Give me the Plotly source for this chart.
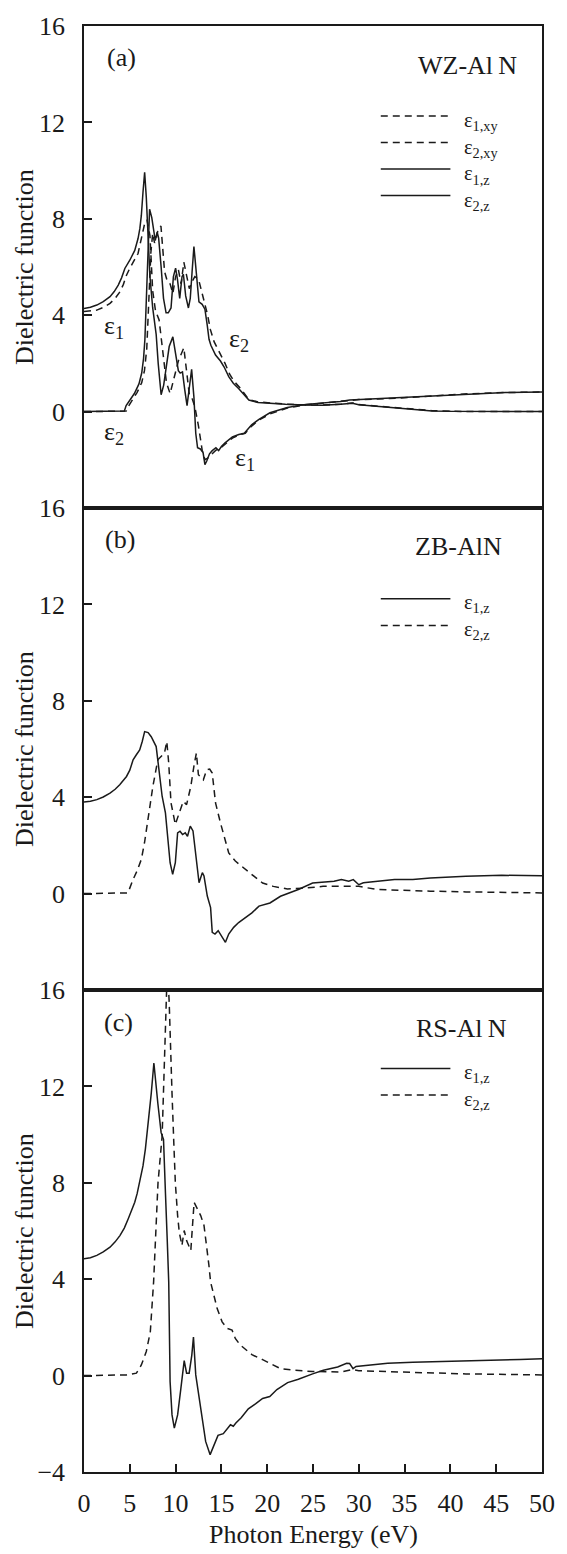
import plotly.graph_objects as go

# ---------------- Data ----------------
# (a) WZ-AlN
E_wz_e1xy = [0, 0.7, 1.4, 2.1, 2.84, 3.4, 3.92, 4.3, 4.64, 5.0, 5.36, 5.9, 6.26, 6.62, 6.88, 7.2, 7.5,
             7.8, 8.2, 8.6, 9.0, 9.4, 9.8, 10.3, 10.9, 11.2, 11.5, 11.8, 12.1, 12.5, 12.9, 13.2, 13.6,
             14.0, 14.4, 14.8, 15.4, 16.2, 17.0, 17.6, 18.3, 19.1, 20.3, 22.2, 24.2, 26.0, 28.0, 29.0,
             30.0, 32.0, 34.0, 38.0, 42.0, 46.0, 50.0]
wz_e1xy = [4.15, 4.17, 4.21, 4.32, 4.49, 4.7, 4.97, 5.28, 5.66, 5.95, 6.21, 6.56, 7.18, 7.8, 7.95, 7.3, 5.0,
           4.2, 3.8, 2.4, 1.2, 0.75, 1.3, 2.1, 2.65, 1.6, 0.7, 0.55, 0.2, -0.6, -1.6, -2.0, -1.9,
           -1.75, -1.6, -1.55, -1.35, -1.1, -0.95, -0.9, -0.6, -0.35, -0.1, 0.15, 0.28, 0.35, 0.42, 0.46,
           0.5, 0.52, 0.55, 0.65, 0.74, 0.79, 0.81]

E_wz_e2xy = [0, 4.6, 4.9, 5.3, 5.8, 6.3, 6.6, 6.85, 7.05, 7.3, 7.5, 7.7, 7.9, 8.1, 8.4, 8.6, 8.8, 9.1,
             9.4, 9.7, 10.0, 10.3, 10.6, 10.9, 11.2, 11.5, 11.8, 12.1, 12.5, 12.8, 13.1, 13.5, 13.8,
             14.2, 14.6, 15.0, 15.4, 15.9, 16.4, 17.0, 17.5, 18.0, 19.0, 20.0, 22.0, 24.0, 26.0, 28.0,
             29.3, 30.0, 32.0, 34.0, 36.0, 38.0, 40.0, 50.0]
wz_e2xy = [0, 0.02, 0.25, 0.5, 0.8, 1.2, 1.7, 2.6, 4.5, 6.6, 7.4, 7.0, 7.2, 7.6, 7.7, 6.9, 5.8, 5.4,
           5.3, 4.9, 5.6, 5.9, 5.3, 6.2, 5.7, 5.1, 5.4, 5.6, 5.5, 5.0, 4.6, 4.0, 3.4,
           2.9, 2.6, 2.3, 2.0, 1.55, 1.25, 1.0, 0.75, 0.5, 0.4, 0.36, 0.31, 0.28, 0.27, 0.3,
           0.36, 0.29, 0.23, 0.16, 0.09, 0.04, 0.01, 0.0]

E_wz_e1z = [0, 0.7, 1.4, 2.1, 2.84, 3.3, 3.74, 4.1, 4.46, 5.0, 5.54, 5.9, 6.1, 6.26, 6.44, 6.62, 6.8,
            7.0, 7.2, 7.5, 7.88, 8.1, 8.42, 8.7, 9.0, 9.3, 9.7, 10.0, 10.3, 10.5, 10.75, 11.0, 11.25,
            11.5, 11.75, 12.0, 12.2, 12.4, 12.7, 13.0, 13.2, 13.4, 13.7, 14.0, 14.4, 14.7, 15.0, 15.4,
            16.2, 16.9, 17.5, 18.3, 19.1, 20.3, 22.2, 24.2, 26.0, 28.0, 29.0, 30.0, 32.0, 34.0, 38.0,
            42.0, 46.0, 50.0]
wz_e1z = [4.28, 4.33, 4.42, 4.56, 4.77, 4.98, 5.25, 5.55, 5.94, 6.28, 6.69, 7.18, 7.6, 8.14, 9.1, 9.93, 8.9,
          7.0, 5.6, 4.3, 3.2, 2.0, 0.7, 1.1, 2.0, 2.7, 3.1, 2.4, 1.7, 1.6, 1.65, 0.9, 0.25,
          1.0, 1.75, 0.6, -0.9, -1.5, -1.55, -1.7, -2.2, -2.05, -1.75, -1.62, -1.5, -1.62, -1.45, -1.3,
          -1.05, -0.95, -0.9, -0.55, -0.32, -0.05, 0.17, 0.3, 0.35, 0.42, 0.48, 0.5, 0.52, 0.55, 0.65,
          0.74, 0.79, 0.81]

E_wz_e2z = [0, 4.4, 4.6, 5.0, 5.5, 6.0, 6.3, 6.5, 6.65, 6.8, 7.0, 7.16, 7.4, 7.55, 7.78, 7.99, 8.15,
            8.42, 8.68, 8.96, 9.2, 9.5, 9.76, 10.0, 10.2, 10.45, 10.7, 10.85, 11.1, 11.4, 11.6, 11.8,
            12.0, 12.3, 12.55, 12.9, 13.2, 13.45, 13.65, 13.85, 14.36, 14.9, 15.3, 15.8, 16.3, 16.9,
            17.4, 18.0, 19.0, 20.0, 22.0, 24.0, 26.0, 28.0, 29.3, 30.0, 32.0, 34.0, 36.0, 38.0, 40.0, 50.0]
wz_e2z = [0, 0.02, 0.25, 0.45, 0.75, 1.15, 1.6, 2.2, 3.0, 4.6, 6.8, 8.4, 8.05, 7.7, 7.1, 7.45, 7.2,
          6.0, 4.7, 4.1, 4.1, 4.3, 5.6, 5.95, 5.5, 4.7, 5.6, 5.7, 4.8, 4.3, 4.7, 5.8,
          6.85, 5.6, 4.55, 4.45, 4.25, 3.6, 3.0, 2.75, 2.35, 2.1, 1.85, 1.45, 1.18, 0.95,
          0.72, 0.48, 0.38, 0.35, 0.3, 0.27, 0.26, 0.3, 0.35, 0.28, 0.22, 0.15, 0.08, 0.03, 0.01, 0.0]

# (b) ZB-AlN
E_zb_e1 = [0, 0.7, 1.4, 2.1, 2.84, 3.4, 3.9, 4.3, 4.64, 5.0, 5.36, 5.7, 6.08, 6.35, 6.62, 7.0, 7.34,
           7.88, 8.17, 8.53, 8.89, 9.14, 9.4, 9.68, 9.97, 10.22, 10.48, 10.76, 11.05, 11.3, 11.6,
           11.9, 12.2, 12.56, 12.92, 13.1, 13.46, 13.82, 14.0, 14.3, 14.65, 15.08, 15.44, 15.8, 16.34,
           16.88, 17.4, 18.33, 19.1, 20.3, 21.45, 22.23, 23.4, 24.96, 26.1, 27.3, 28.1, 28.9, 29.4,
           30.0, 30.5, 32.0, 33.9, 35.9, 37.8, 41.7, 45.6, 50.0]
zb_e1 = [3.8, 3.83, 3.9, 4.01, 4.17, 4.33, 4.52, 4.68, 4.86, 5.12, 5.55, 5.75, 5.96, 6.3, 6.72, 6.68, 6.51,
         6.1, 5.14, 4.04, 3.35, 2.38, 1.28, 0.8, 1.28, 2.52, 2.59, 2.45, 2.52, 2.38, 2.8,
         2.6, 1.69, 0.45, 0.87, 0.73, -0.1, -0.58, -1.61, -1.68, -1.54, -1.82, -2.02, -1.68, -1.4,
         -1.2, -1.06, -0.8, -0.52, -0.39, -0.11, 0.0, 0.17, 0.44, 0.47, 0.51, 0.58, 0.51, 0.58,
         0.37, 0.45, 0.51, 0.58, 0.58, 0.65, 0.72, 0.76, 0.74]

E_zb_e2 = [0, 4.8, 5.36, 5.8, 6.26, 6.6, 6.98, 7.52, 8.06, 8.42, 8.78, 9.04, 9.25, 9.5, 9.97, 10.4, 10.84,
           11.2, 11.66, 12.02, 12.27, 12.49, 13.03, 13.39, 13.72, 14.0, 14.36, 14.9, 15.37, 15.8, 16.52,
           17.24, 18.33, 19.5, 20.67, 22.2, 24.2, 26.1, 28.0, 30.0, 32.0, 33.9, 37.8, 41.7, 45.6, 50.0]
zb_e2 = [0, 0.03, 0.59, 0.95, 1.42, 2.1, 3.07, 4.45, 5.55, 5.69, 5.83, 6.31, 5.41, 3.76, 2.87, 3.35, 3.83,
         3.69, 4.45, 5.34, 5.83, 4.93, 4.72, 5.14, 5.17, 5.0, 3.76, 2.93, 2.25, 1.69, 1.35,
         1.14, 0.79, 0.44, 0.3, 0.19, 0.23, 0.3, 0.3, 0.3, 0.17, 0.14, 0.1, 0.07, 0.06, 0.03]

# (c) RS-AlN
E_rs_e1 = [0, 0.7, 1.4, 2.1, 2.84, 3.4, 3.92, 4.4, 4.82, 5.2, 5.54, 5.8, 6.08, 6.44, 6.7, 6.98, 7.15,
           7.34, 7.5, 7.63, 8.06, 8.42, 8.68, 8.78, 8.89, 9.09, 9.25, 9.4, 9.61, 9.86, 10.22, 10.58,
           10.94, 11.2, 11.48, 11.77, 11.95, 12.2, 12.56, 12.92, 13.28, 13.77, 14.24, 14.63, 15.21,
           15.99, 16.3, 16.58, 17.16, 17.94, 18.72, 19.5, 20.28, 21.06, 22.23, 23.4, 24.96, 26.13,
           27.69, 28.67, 29.0, 29.37, 29.7, 31.2, 33.15, 35.9, 39.8, 43.7, 47.6, 50.0]
rs_e1 = [4.85, 4.89, 4.99, 5.13, 5.33, 5.55, 5.81, 6.12, 6.5, 6.85, 7.19, 7.55, 8.02, 8.7, 9.4, 10.36, 10.9,
         11.7, 12.4, 12.97, 11.3, 10.08, 9.8, 8.98, 7.6, 5.6, 3.88, -0.25, -1.63, -2.18, -1.63, -0.52,
         0.62, 0.1, 0.1, 0.85, 1.6, 0.03, -0.94, -1.9, -2.73, -3.28, -2.84, -2.48, -2.41,
         -2.04, -2.1, -1.97, -1.75, -1.38, -1.17, -0.95, -0.87, -0.58, -0.29, -0.15, 0.07, 0.22,
         0.36, 0.51, 0.5, 0.29, 0.38, 0.44, 0.51, 0.55, 0.58, 0.63, 0.67, 0.7]

E_rs_e2 = [0, 4.64, 5.72, 6.26, 6.8, 7.24, 7.6, 7.81, 8.08, 8.53, 8.68, 8.9, 9.1, 9.3, 9.4, 9.61, 9.79,
           9.97, 10.22, 10.4, 10.69, 10.94, 11.2, 11.45, 11.66, 12.02, 12.38, 12.74, 13.1, 13.46,
           13.64, 13.82, 14.18, 14.54, 15.08, 15.62, 16.16, 16.52, 17.06, 17.36, 18.33, 19.5, 20.28,
           21.45, 23.0, 24.96, 28.1, 29.3, 30.0, 33.9, 37.8, 41.7, 50.0]
rs_e2 = [0, 0.03, 0.1, 0.44, 1.0, 1.82, 3.9, 5.95, 8.0, 9.94, 11.7, 14.5, 17.0, 15.5, 14.1, 11.7, 9.8,
         8.0, 6.64, 5.95, 5.4, 6.02, 5.6, 5.4, 5.19, 7.19, 6.91, 6.64, 6.23, 5.26,
         4.57, 3.88, 3.33, 2.78, 2.23, 1.96, 1.89, 1.54, 1.27, 1.17, 0.87, 0.66, 0.51,
         0.29, 0.22, 0.17, 0.15, 0.25, 0.2, 0.15, 0.12, 0.07, 0.03]

# legend entries per panel
legend_a = ["1,xy", "2,xy", "1,z", "2,z"]
legend_a_dashed = [True, True, False, False]
legend_b = ["1,z", "2,z"]
legend_b_dashed = [False, True]
legend_c = ["1,z", "2,z"]
legend_c_dashed = [False, True]

# ---------------- Figure ----------------
FONT = "Liberation Serif, DejaVu Serif, serif"
INK = "#1a1a1a"
LW = 1.5
DASH = "7px,5px"

fig = go.Figure()

def add(x, y, dashed, ax):
    fig.add_trace(go.Scatter(
        x=x, y=y, mode="lines", xaxis="x" + ax, yaxis="y" + ax, showlegend=False,
        line=dict(color=INK, width=LW, dash=DASH if dashed else "solid"),
        hoverinfo="skip"))

add(E_wz_e1xy, wz_e1xy, True, "")
add(E_wz_e2xy, wz_e2xy, True, "")
add(E_wz_e1z, wz_e1z, False, "")
add(E_wz_e2z, wz_e2z, False, "")
add(E_zb_e1, zb_e1, False, "2")
add(E_zb_e2, zb_e2, True, "2")
add(E_rs_e1, rs_e1, False, "3")
add(E_rs_e2, rs_e2, True, "3")

axis_common = dict(showline=True, mirror=True, linecolor=INK, linewidth=1.5,
                   showgrid=False, zeroline=False)
tickfont = dict(family=FONT, size=26, color=INK)

xcommon = dict(range=[0, 50], **axis_common)
fig.update_layout(
    xaxis=dict(anchor="y", showticklabels=False, ticks="", **xcommon),
    xaxis2=dict(anchor="y2", showticklabels=False, ticks="", **xcommon),
    xaxis3=dict(anchor="y3", ticks="inside", ticklen=8, tickwidth=1.5, tickcolor=INK,
                tickvals=list(range(0, 51, 5)), tickfont=tickfont, ticklabelstandoff=7,
                **xcommon),
)

yt = [0, 4, 8, 12, 16]
yt3 = [-4, 0, 4, 8, 12, 16]
ycommon = dict(range=[-4, 16], ticks="inside", ticklen=8, tickwidth=1.5, tickcolor=INK,
               tickfont=tickfont, ticklabelstandoff=12, **axis_common)
fig.update_layout(
    yaxis=dict(anchor="x", domain=[2/3, 1], tickvals=yt, ticktext=[str(v) for v in yt], **ycommon),
    yaxis2=dict(anchor="x2", domain=[1/3, 2/3], tickvals=yt, ticktext=[str(v) for v in yt], **ycommon),
    yaxis3=dict(anchor="x3", domain=[0, 1/3], tickvals=yt3,
                ticktext=[str(v).replace("-", "\u2212") for v in yt3], **ycommon),
)

ann = []
def txt(text, x, y, xr, yr, size=26, xanchor="left", yanchor="middle", angle=0, align="center"):
    ann.append(dict(text=text, x=x, y=y, xref=xr, yref=yr, showarrow=False,
                    xanchor=xanchor, yanchor=yanchor, textangle=angle, align=align,
                    font=dict(family=FONT, size=size, color=INK)))

# y titles
for yr in ["y domain", "y2 domain", "y3 domain"]:
    txt("Dielectric function", -0.131, 0.5, "paper", yr, xanchor="center", angle=-90)
# x title
txt("Photon Energy (eV)", 0.5, -0.043, "paper", "paper", xanchor="center")

# panel labels
txt("(a)", 2.3, 14.7, "x", "y")
txt("WZ-Al\u2009N", 36.2, 14.35, "x", "y")
txt("(b)", 2.1, 14.7, "x2", "y2")
txt("ZB-AlN", 35.9, 14.42, "x2", "y2")
txt("(c)", 2.0, 14.67, "x3", "y3")
txt("RS-Al\u2009N", 36.0, 14.42, "x3", "y3")

# curve labels in (a)
txt("\u03b5<sub>1</sub>", 1.94, 3.52, "x", "y")
txt("\u03b5<sub>2</sub>", 1.94, -0.88, "x", "y")
txt("\u03b5<sub>2</sub>", 15.6, 2.98, "x", "y")
txt("\u03b5<sub>1</sub>", 16.3, -1.98, "x", "y")

# legends: one multi-line text block per panel plus line keys
LEG_SIZE = 20.5
row_step = LEG_SIZE * 1.3 / 24.2   # line spacing in data units (24.2 px per unit)
shapes = []
def legend(ax, top_row, labels, dashed_flags):
    n = len(labels)
    rows = [top_row - i * row_step for i in range(n)]
    for yv, d in zip(rows, dashed_flags):
        shapes.append(dict(type="line", xref="x" + ax, yref="y" + ax, x0=32.4, x1=40.0,
                           y0=yv, y1=yv,
                           line=dict(color=INK, width=1.5, dash=DASH if d else "solid")))
    text = "<br>".join("\u03b5<sub>" + lab + "</sub>" for lab in labels)
    txt(text, 41.3, (rows[0] + rows[-1]) / 2 - 0.22, "x" + ax, "y" + ax, size=LEG_SIZE,
        align="left")

legend("", 12.27, legend_a, legend_a_dashed)
legend("2", 12.23, legend_b, legend_b_dashed)
legend("3", 12.74, legend_c, legend_c_dashed)

# heavier separators between stacked panels
for yy in [1/3, 2/3]:
    shapes.append(dict(type="line", xref="paper", yref="paper", x0=0, x1=1, y0=yy, y1=yy,
                       line=dict(color=INK, width=3)))

fig.update_layout(
    width=567, height=1554,
    margin=dict(l=84, r=20, t=20, b=82),
    paper_bgcolor="white", plot_bgcolor="white",
    annotations=ann, shapes=shapes,
    font=dict(family=FONT, color=INK),
)

fig.write_html("out.html")
